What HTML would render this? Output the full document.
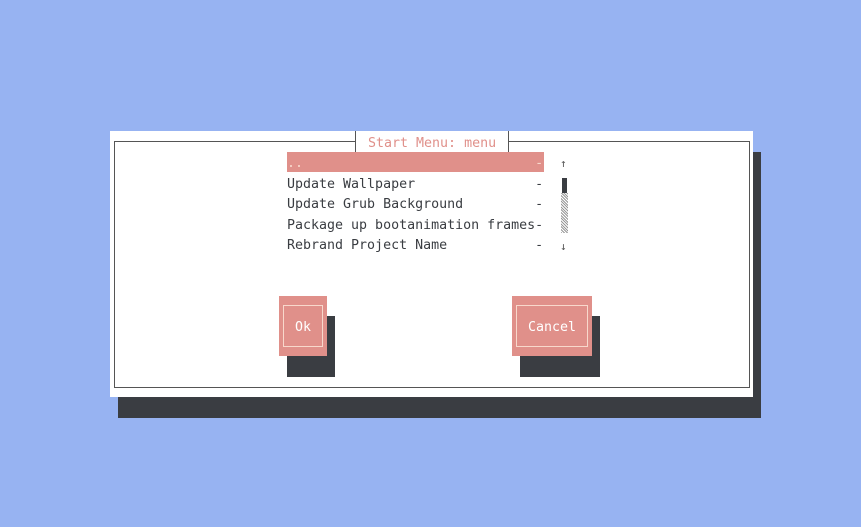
<!DOCTYPE html>
<html><head><style>
body{margin:0;width:861px;height:527px;background:#97b3f2;position:relative;overflow:hidden;font-family:"DejaVu Sans Mono","Liberation Mono",monospace;font-size:13.3px}
div{position:absolute;box-sizing:border-box}
.t{white-space:pre;color:#3a3d42;line-height:20.5px}
</style></head><body>
<div style="left:118px;top:152px;width:643px;height:266px;background:#3a3d42"></div>
<div style="left:110px;top:131px;width:643px;height:266px;background:#fff"></div>
<div style="left:114px;top:141px;width:636px;height:247px;border:1px solid #555"></div>
<div style="left:355px;top:131px;width:154px;height:21px;background:#fff;border:1px solid #555;border-top:none;border-bottom:none"></div>
<div class="t" style="left:368px;top:134px;color:#e0908a">Start Menu: menu</div>
<div style="left:287px;top:152px;width:257px;height:20px;background:#e0908a"></div>
<div class="t" style="left:287px;top:154px"><span style="color:#f8d8cc">..                             -</span>
Update Wallpaper               -
Update Grub Background         -
Package up bootanimation frames-
Rebrand Project Name           -</div>
<div class="t" style="left:560px;top:154px;font-size:11px;color:#555">↑</div>
<div style="left:562px;top:178px;width:5px;height:15px;background:#3a3d42"></div>
<div style="left:561px;top:193px;width:7px;height:40px;background:repeating-linear-gradient(45deg,#999 0 1px,#fff 1px 2px)"></div>
<div class="t" style="left:560px;top:237px;font-size:11px;color:#555">↓</div>
<div style="left:287px;top:316px;width:48px;height:61px;background:#3a3d42"></div>
<div style="left:279px;top:296px;width:48px;height:60px;background:#e0908a"></div>
<div style="left:283px;top:305px;width:40px;height:42px;border:1px solid #f8d8cc;color:#fff;text-align:center;line-height:44px">Ok</div>
<div style="left:520px;top:316px;width:80px;height:61px;background:#3a3d42"></div>
<div style="left:512px;top:296px;width:80px;height:60px;background:#e0908a"></div>
<div style="left:516px;top:305px;width:72px;height:42px;border:1px solid #f8d8cc;color:#fff;text-align:center;line-height:44px">Cancel</div>
</body></html>
